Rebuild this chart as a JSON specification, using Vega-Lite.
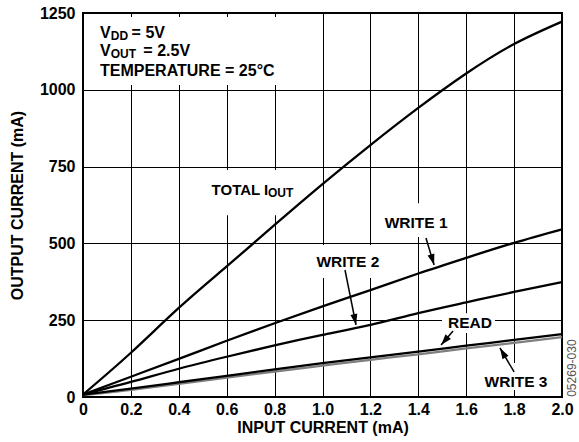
{
  "$schema": "https://vega.github.io/schema/vega-lite/v6.json",
  "width": 479,
  "height": 384,
  "autosize": {"type": "none"},
  "padding": {"left": 83, "top": 13, "right": 17, "bottom": 45},
  "background": "white",
  "config": {
    "view": {"stroke": "black", "strokeWidth": 2},
    "font": "Liberation Sans",
    "axis": {
      "grid": true, "gridColor": "black", "gridWidth": 1, "gridOpacity": 1,
      "ticks": false, "domain": false,
      "labelFont": "Liberation Sans", "labelFontWeight": "bold", "labelFontSize": 16, "labelColor": "black",
      "titleFont": "Liberation Sans", "titleFontWeight": "bold", "titleFontSize": 16, "titleColor": "black"
    }
  },
  "encoding": {
    "x": {
      "field": "x", "type": "quantitative",
      "scale": {"domain": [0, 2], "nice": false, "zero": false},
      "axis": {
        "values": [0, 0.2, 0.4, 0.6, 0.8, 1.0, 1.2, 1.4, 1.6, 1.8, 2.0],
        "labelExpr": "datum.value == 0 ? '0' : format(datum.value, '.1f')",
        "labelPadding": 4, "labelFlush": false,
        "title": "INPUT CURRENT (mA)", "titlePadding": 2
      }
    },
    "y": {
      "field": "y", "type": "quantitative",
      "scale": {"domain": [0, 1250], "nice": false, "zero": false},
      "axis": {
        "values": [0, 250, 500, 750, 1000, 1250],
        "format": "d",
        "labelPadding": 8, "labelFlush": false,
        "title": "OUTPUT CURRENT (mA)", "titlePadding": 14
      }
    }
  },
  "layer": [
    {
      "data": {"values": [
        {"x": 0.02, "x2": 0.86, "y": 1016, "y2": 1237},
        {"x": 0.49, "x2": 0.93, "y": 592, "y2": 739},
        {"x": 1.23, "x2": 1.55, "y": 521, "y2": 631},
        {"x": 0.956, "x2": 1.26, "y": 387, "y2": 495},
        {"x": 1.499, "x2": 1.72, "y": 208, "y2": 273},
        {"x": 1.658, "x2": 1.958, "y": 23, "y2": 111}
      ]},
      "mark": {"type": "rect", "fill": "white", "stroke": null},
      "encoding": {"x2": {"field": "x2"}, "y2": {"field": "y2"}}
    },
    {
      "data": {"values": [
        {"series": "WRITE 3", "x": 0, "y": 6}, {"series": "WRITE 3", "x": 0.2, "y": 23}, {"series": "WRITE 3", "x": 0.4, "y": 43}, {"series": "WRITE 3", "x": 0.6, "y": 63}, {"series": "WRITE 3", "x": 0.8, "y": 83}, {"series": "WRITE 3", "x": 1.0, "y": 102}, {"series": "WRITE 3", "x": 1.2, "y": 121}, {"series": "WRITE 3", "x": 1.4, "y": 139}, {"series": "WRITE 3", "x": 1.6, "y": 158}, {"series": "WRITE 3", "x": 1.8, "y": 176}, {"series": "WRITE 3", "x": 2.0, "y": 195},
        {"series": "READ", "x": 0, "y": 8}, {"series": "READ", "x": 0.2, "y": 27}, {"series": "READ", "x": 0.4, "y": 48}, {"series": "READ", "x": 0.6, "y": 69}, {"series": "READ", "x": 0.8, "y": 90}, {"series": "READ", "x": 1.0, "y": 110}, {"series": "READ", "x": 1.2, "y": 129}, {"series": "READ", "x": 1.4, "y": 148}, {"series": "READ", "x": 1.6, "y": 167}, {"series": "READ", "x": 1.8, "y": 186}, {"series": "READ", "x": 2.0, "y": 205},
        {"series": "WRITE 2", "x": 0, "y": 8}, {"series": "WRITE 2", "x": 0.2, "y": 49}, {"series": "WRITE 2", "x": 0.4, "y": 92}, {"series": "WRITE 2", "x": 0.6, "y": 131}, {"series": "WRITE 2", "x": 0.8, "y": 168}, {"series": "WRITE 2", "x": 1.0, "y": 202}, {"series": "WRITE 2", "x": 1.2, "y": 235}, {"series": "WRITE 2", "x": 1.4, "y": 273}, {"series": "WRITE 2", "x": 1.6, "y": 308}, {"series": "WRITE 2", "x": 1.8, "y": 342}, {"series": "WRITE 2", "x": 2.0, "y": 374},
        {"series": "WRITE 1", "x": 0, "y": 8}, {"series": "WRITE 1", "x": 0.2, "y": 66}, {"series": "WRITE 1", "x": 0.4, "y": 124}, {"series": "WRITE 1", "x": 0.6, "y": 183}, {"series": "WRITE 1", "x": 0.8, "y": 240}, {"series": "WRITE 1", "x": 1.0, "y": 295}, {"series": "WRITE 1", "x": 1.2, "y": 348}, {"series": "WRITE 1", "x": 1.4, "y": 402}, {"series": "WRITE 1", "x": 1.6, "y": 453}, {"series": "WRITE 1", "x": 1.8, "y": 502}, {"series": "WRITE 1", "x": 2.0, "y": 546},
        {"series": "TOTAL", "x": 0, "y": 8}, {"series": "TOTAL", "x": 0.2, "y": 144}, {"series": "TOTAL", "x": 0.4, "y": 290}, {"series": "TOTAL", "x": 0.6, "y": 425}, {"series": "TOTAL", "x": 0.8, "y": 560}, {"series": "TOTAL", "x": 1.0, "y": 693}, {"series": "TOTAL", "x": 1.2, "y": 820}, {"series": "TOTAL", "x": 1.4, "y": 941}, {"series": "TOTAL", "x": 1.6, "y": 1053}, {"series": "TOTAL", "x": 1.8, "y": 1149}, {"series": "TOTAL", "x": 2.0, "y": 1222}
      ]},
      "mark": {"type": "line", "strokeWidth": 2.3, "interpolate": "natural"},
      "encoding": {
        "color": {"field": "series", "type": "nominal", "legend": null,
          "scale": {"domain": ["WRITE 3", "READ", "WRITE 2", "WRITE 1", "TOTAL"], "range": ["#7f7f7f", "black", "black", "black", "black"]}},
        "order": {"field": "x", "type": "quantitative"}
      }
    },
    {
      "data": {"values": [
        {"label": "WRITE 1", "x": 1.432, "y": 517.6, "x2": 1.466, "y2": 429.7},
        {"label": "WRITE 2", "x": 1.094, "y": 413.4, "x2": 1.140, "y2": 234.4},
        {"label": "READ", "x": 1.545, "y": 214.8, "x2": 1.495, "y2": 169.3},
        {"label": "WRITE 3", "x": 1.800, "y": 81.4, "x2": 1.741, "y2": 159.5}
      ]},
      "mark": {"type": "rule", "color": "black", "strokeWidth": 1.5},
      "encoding": {"x2": {"field": "x2"}, "y2": {"field": "y2"}}
    },
    {
      "data": {"values": [{"label": "WRITE 1", "x": 1.466, "y": 429.7}]},
      "mark": {"type": "point", "shape": "M0,0L-0.7,2.2L0.7,2.2Z", "size": 100, "filled": true, "color": "black", "opacity": 1, "angle": 163.5}
    },
    {
      "data": {"values": [{"label": "WRITE 2", "x": 1.140, "y": 234.4}]},
      "mark": {"type": "point", "shape": "M0,0L-0.7,2.2L0.7,2.2Z", "size": 100, "filled": true, "color": "black", "opacity": 1, "angle": 168.7}
    },
    {
      "data": {"values": [{"label": "READ", "x": 1.495, "y": 169.3}]},
      "mark": {"type": "point", "shape": "M0,0L-0.7,2.2L0.7,2.2Z", "size": 100, "filled": true, "color": "black", "opacity": 1, "angle": 220.6}
    },
    {
      "data": {"values": [{"label": "WRITE 3", "x": 1.741, "y": 159.5}]},
      "mark": {"type": "point", "shape": "M0,0L-0.7,2.2L0.7,2.2Z", "size": 100, "filled": true, "color": "black", "opacity": 1, "angle": 329.7}
    },
    {
      "data": {"values": [
        {"t": "V", "x": 0.071, "y": 1167},
        {"t": "= 5V", "x": 0.203, "y": 1167},
        {"t": "V", "x": 0.071, "y": 1110},
        {"t": "= 2.5V", "x": 0.252, "y": 1110},
        {"t": "TEMPERATURE = 25°C", "x": 0.071, "y": 1046}
      ]},
      "mark": {"type": "text", "align": "left", "baseline": "alphabetic", "font": "Liberation Sans", "fontWeight": "bold", "fontSize": 16, "color": "black"},
      "encoding": {"text": {"field": "t"}}
    },
    {
      "data": {"values": [
        {"t": "TOTAL I", "x": 0.537, "y": 657.5}
      ]},
      "mark": {"type": "text", "align": "left", "baseline": "alphabetic", "font": "Liberation Sans", "fontWeight": "bold", "fontSize": 15, "color": "black"},
      "encoding": {"text": {"field": "t"}}
    },
    {
      "data": {"values": [
        {"t": "DD", "x": 0.116, "y": 1167},
        {"t": "OUT", "x": 0.116, "y": 1110},
        {"t": "OUT", "x": 0.772, "y": 657.5}
      ]},
      "mark": {"type": "text", "align": "left", "baseline": "alphabetic", "dy": 2, "font": "Liberation Sans", "fontWeight": "bold", "fontSize": 12, "color": "black"},
      "encoding": {"text": {"field": "t"}}
    },
    {
      "data": {"values": [
        {"t": "WRITE 1", "x": 1.391, "y": 550},
        {"t": "WRITE 2", "x": 1.106, "y": 423},
        {"t": "READ", "x": 1.616, "y": 224.6},
        {"t": "WRITE 3", "x": 1.808, "y": 32.6}
      ]},
      "mark": {"type": "text", "align": "center", "baseline": "alphabetic", "font": "Liberation Sans", "fontWeight": "bold", "fontSize": 15.5, "color": "black"},
      "encoding": {"text": {"field": "t"}}
    },
    {
      "data": {"values": [{"t": "05269-030", "x": 2.042, "y": 94}]},
      "mark": {"type": "text", "align": "center", "baseline": "middle", "angle": 270, "font": "Liberation Sans", "fontSize": 12, "color": "#555555"},
      "encoding": {"text": {"field": "t"}}
    }
  ]
}
